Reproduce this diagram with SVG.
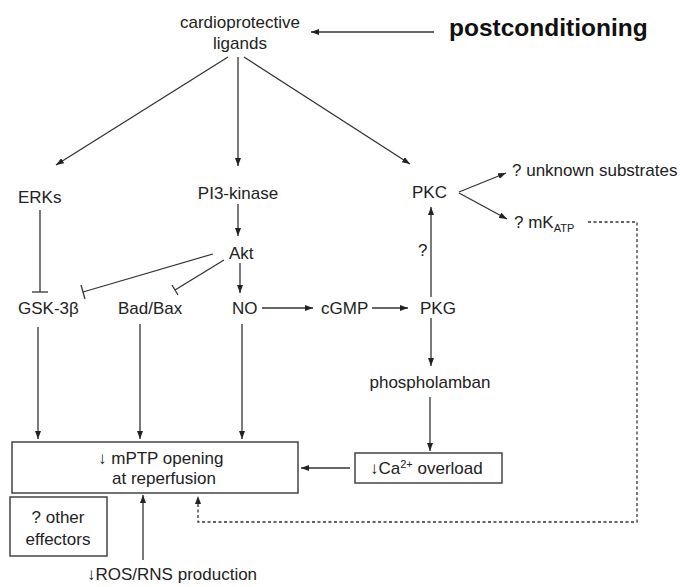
<svg xmlns="http://www.w3.org/2000/svg" width="680" height="587" viewBox="0 0 680 587">
<style>
text{font-family:"Liberation Sans",Arial,sans-serif;font-size:17px;fill:#222}
.b{font-weight:bold;font-size:24.5px;fill:#111}
.sub{font-size:11px}
.sup{font-size:11px}
.c line,.c path,.c polyline{stroke:#333;stroke-width:1.3;fill:none}
.box{fill:#fff;stroke:#444;stroke-width:1.5}
.dash{stroke-dasharray:3,2.5}
</style>
<defs>
<marker id="ah" markerUnits="userSpaceOnUse" markerWidth="8" markerHeight="6" refX="8" refY="3" orient="auto">
<path d="M0,0 L8,3 L0,6 z" fill="#222"/>
</marker>
</defs>
<g class="c" id="connectors">
<line x1="434" y1="32" x2="311" y2="32" marker-end="url(#ah)"/>
<line x1="228" y1="57" x2="56" y2="165" marker-end="url(#ah)"/>
<line x1="238" y1="57" x2="238" y2="166" marker-end="url(#ah)"/>
<line x1="244" y1="57" x2="410" y2="164" marker-end="url(#ah)"/>
<line x1="459" y1="192" x2="506" y2="173" marker-end="url(#ah)"/>
<line x1="459" y1="193" x2="507" y2="219" marker-end="url(#ah)"/>
<line x1="40" y1="210" x2="40" y2="292"/>
<line x1="32" y1="292" x2="48" y2="292"/>
<line x1="238" y1="204" x2="238" y2="236" marker-end="url(#ah)"/>
<line x1="213" y1="254" x2="83" y2="292"/>
<line x1="81" y1="285" x2="85" y2="299"/>
<line x1="224" y1="260" x2="175" y2="290"/>
<line x1="172" y1="285" x2="178" y2="295"/>
<line x1="240" y1="263" x2="240" y2="293" marker-end="url(#ah)"/>
<line x1="262" y1="308" x2="313" y2="308" marker-end="url(#ah)"/>
<line x1="372" y1="308" x2="408" y2="308" marker-end="url(#ah)"/>
<line x1="431" y1="297" x2="431" y2="207" marker-end="url(#ah)"/>
<line x1="431" y1="318" x2="431" y2="366" marker-end="url(#ah)"/>
<line x1="430" y1="397" x2="430" y2="451" marker-end="url(#ah)"/>
<line x1="38" y1="327" x2="38" y2="439" marker-end="url(#ah)"/>
<line x1="140" y1="324" x2="140" y2="439" marker-end="url(#ah)"/>
<line x1="242" y1="324" x2="242" y2="439" marker-end="url(#ah)"/>
<line x1="350" y1="468" x2="301" y2="468" marker-end="url(#ah)"/>
<line x1="143" y1="560" x2="143" y2="495" marker-end="url(#ah)"/>
<polyline class="dash" points="588,222 637,222 637,522 198,522 198,496" marker-end="url(#ah)"/>
</g>
<g id="postconditioning"><text class="b" x="449" y="36">postconditioning</text></g>
<g id="ligands"><text x="240" y="28" text-anchor="middle">cardioprotective</text><text x="240" y="49" text-anchor="middle">ligands</text></g>
<g id="erks"><text x="18" y="203">ERKs</text></g>
<g id="pi3k"><text x="238" y="199" text-anchor="middle">PI3-kinase</text></g>
<g id="pkc"><text x="412" y="198">PKC</text></g>
<g id="unknown"><text x="512" y="176">? unknown substrates</text></g>
<g id="mkatp"><text x="514" y="228">? mK<tspan class="sub" dy="4">ATP</tspan></text></g>
<g id="akt"><text x="229" y="259">Akt</text></g>
<g id="gsk"><text x="18" y="314">GSK-3β</text></g>
<g id="badbax"><text x="118" y="314">Bad/Bax</text></g>
<g id="no"><text x="232" y="314">NO</text></g>
<g id="cgmp"><text x="321" y="314">cGMP</text></g>
<g id="pkg"><text x="420" y="314">PKG</text></g>
<g id="q"><text x="418" y="256">?</text></g>
<g id="phospholamban"><text x="430" y="388" text-anchor="middle">phospholamban</text></g>
<g id="ca"><rect class="box" x="355" y="453" width="147" height="30"/><text x="370" y="474">↓Ca<tspan class="sup" dy="-6">2+</tspan><tspan dy="6"> overload</tspan></text></g>
<g id="mptp"><rect class="box" x="12" y="442" width="286" height="51"/><text x="98" y="464">↓ mPTP opening</text><text x="112" y="484">at reperfusion</text></g>
<g id="other"><rect class="box" x="10" y="497" width="97" height="59"/><text x="58" y="523" text-anchor="middle">? other</text><text x="58" y="545" text-anchor="middle">effectors</text></g>
<g id="ros"><text x="87" y="580">↓ROS/RNS production</text></g>
</svg>
